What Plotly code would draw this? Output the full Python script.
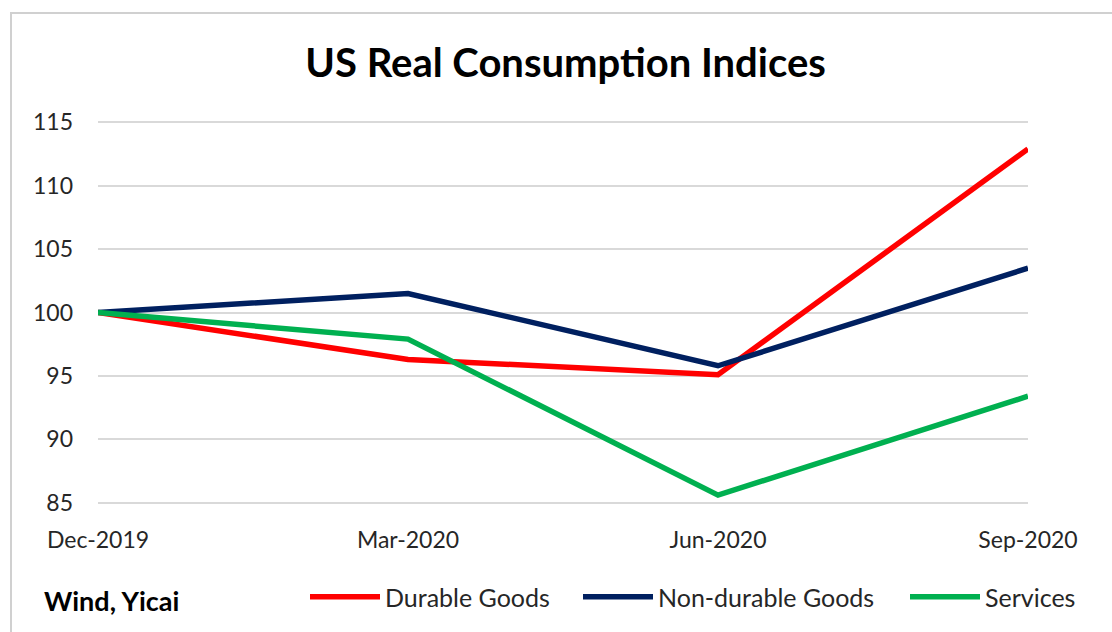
import plotly.graph_objects as go

categories = ["Dec-2019", "Mar-2020", "Jun-2020", "Sep-2020"]
durable = [100, 96.3, 95.1, 112.9]
non_durable = [100, 101.5, 95.8, 103.5]
services = [100, 97.9, 85.6, 93.4]
y_ticks = [85, 90, 95, 100, 105, 110, 115]

FONT = "Lato"
W, H = 1112, 632
ML, MR, MT, MB = 98, 84, 121, 128
PW, PH = W - ML - MR, H - MT - MB

def px_x(p):
    return (p - ML) / PW

def px_y(p):
    return (H - MB - p) / PH

fig = go.Figure()
series = [("Durable Goods", durable, "#FF0000", "legend", 305),
          ("Non-durable Goods", non_durable, "#002060", "legend2", 578),
          ("Services", services, "#00B050", "legend3", 905)]
legend_layout = {}
for name, vals, col, leg, lx in series:
    fig.add_trace(go.Scatter(x=list(range(len(categories))), y=vals, name=name,
                             mode="lines", line=dict(color=col, width=5.5), legend=leg))
    legend_layout[leg] = dict(orientation="h", x=px_x(lx), xanchor="left", y=px_y(597),
                              yanchor="middle", font=dict(family=FONT, size=25, color="#262626"),
                              itemwidth=70, bgcolor="rgba(0,0,0,0)")

fig.update_layout(
    width=W, height=H,
    margin=dict(l=ML, r=MR, t=MT, b=MB),
    paper_bgcolor="white", plot_bgcolor="white",
    font=dict(family=FONT, size=23, color="#262626"),
    title=dict(text="<b>US Real Consumption Indices</b>", x=px_x(571), xanchor="center",
               y=1 - 63 / H, yanchor="middle", font=dict(family=FONT, size=40, color="black")),
    xaxis=dict(tickmode="array", tickvals=list(range(len(categories))), ticktext=categories,
               range=[0, len(categories) - 1], showgrid=False, zeroline=False, showline=False,
               ticklabelstandoff=20),
    yaxis=dict(range=[84.9, 115.1], tickvals=y_ticks, showgrid=True, gridcolor="#D9D9D9",
               gridwidth=1.5, zeroline=False, showline=False, ticklabelstandoff=24),
    showlegend=True,
    **legend_layout,
)
fig.add_annotation(text="<b>Wind, Yicai</b>", xref="paper", yref="paper",
                   x=px_x(42), y=px_y(600), xanchor="left", yanchor="middle",
                   showarrow=False, font=dict(family=FONT, size=27, color="black"))
fig.add_shape(type="rect", xref="paper", yref="paper",
              x0=px_x(11), x1=px_x(1125), y0=px_y(645), y1=px_y(13),
              line=dict(color="#D0D0D0", width=2), fillcolor="rgba(0,0,0,0)", layer="below")

fig.write_html("out.html", config={"displayModeBar": False},
               post_script="document.body.style.margin='0';")
